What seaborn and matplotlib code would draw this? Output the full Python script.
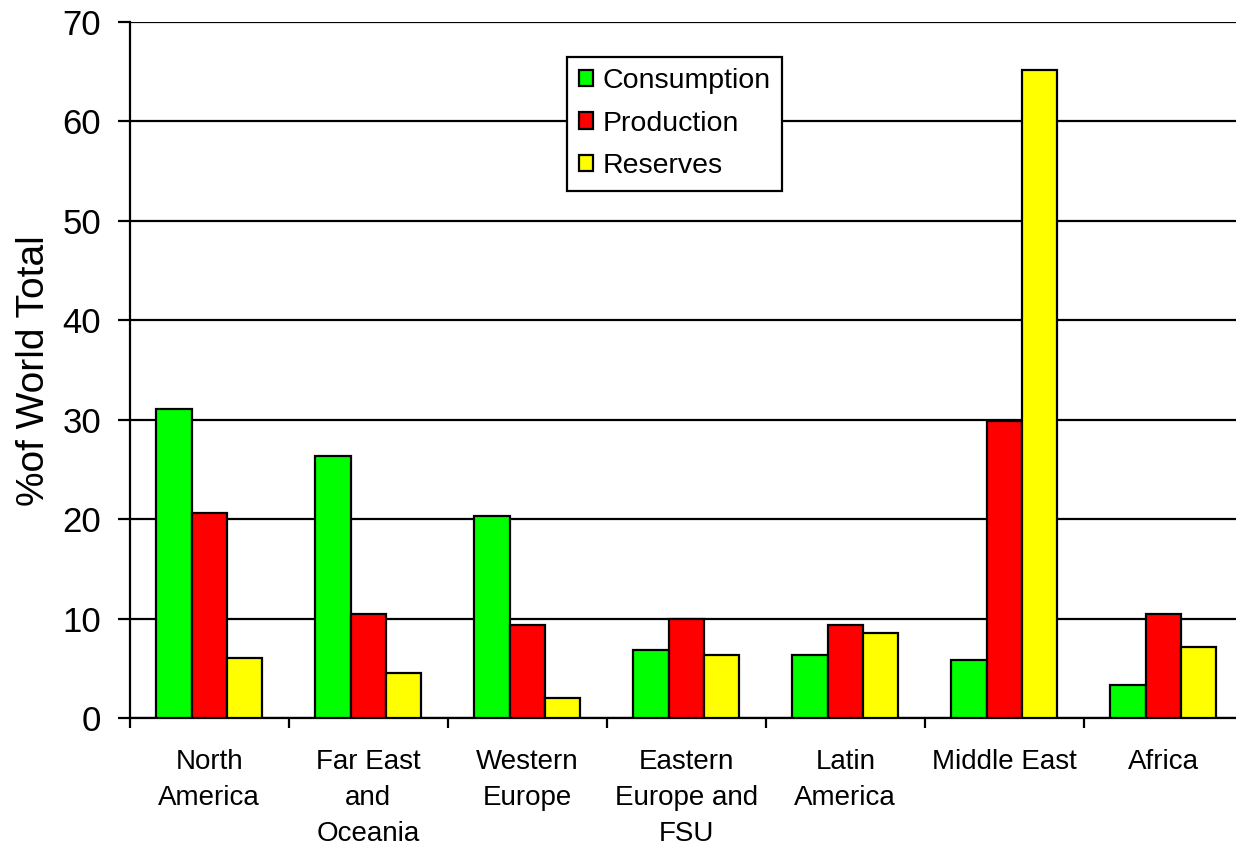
import pandas as pd
import matplotlib.pyplot as plt
import seaborn as sns

regions = ['North\nAmerica', 'Far East\nand\nOceania', 'Western\nEurope',
           'Eastern\nEurope and\nFSU', 'Latin\nAmerica', 'Middle East', 'Africa']
consumption = [31.1, 26.4, 20.3, 6.9, 6.4, 5.9, 3.3]
production = [20.6, 10.5, 9.4, 10.0, 9.4, 29.9, 10.5]
reserves = [6.1, 4.5, 2.0, 6.4, 8.6, 65.2, 7.2]

series = ['Consumption', 'Production', 'Reserves']
colors = {'Consumption': '#00FF00', 'Production': '#FF0000', 'Reserves': '#FFFF00'}

df = pd.DataFrame({'region': regions, 'Consumption': consumption,
                   'Production': production, 'Reserves': reserves})
df = df.melt(id_vars='region', value_vars=series, var_name='serie', value_name='pct')

sns.set_style('white')
plt.rcParams['font.family'] = ['Liberation Sans', 'DejaVu Sans']
plt.rcParams['text.color'] = 'black'
plt.rcParams['xtick.color'] = 'black'
plt.rcParams['ytick.color'] = 'black'
plt.rcParams['axes.labelcolor'] = 'black'

fig = plt.figure(figsize=(12.36, 8.46), dpi=100)
ax = fig.add_axes([0.105, 0.151, 0.9005, 0.823])

sns.barplot(data=df, x='region', y='pct', hue='serie', hue_order=series,
            palette=colors, width=0.667, edgecolor='black', linewidth=1.6,
            saturation=1, ax=ax, zorder=3)

ax.set_ylim(0, 70)
ax.set_xlim(-0.5, len(regions) - 0.5)
ax.set_yticks(range(0, 71, 10))
ax.yaxis.grid(True, color='black', linewidth=1.6)
ax.set_axisbelow(True)
ax.tick_params(axis='y', direction='out', length=8.6, width=1.6,
               labelsize=25, pad=12, left=True)

# ticks between groups, labels at group centres
ax.set_xticks([i - 0.5 for i in range(len(regions) + 1)])
ax.set_xticklabels([])
ax.set_xticks(range(len(regions)), minor=True)
ax.set_xticklabels(regions, minor=True, fontsize=20, linespacing=1.5, va='top')
ax.tick_params(axis='x', which='major', direction='out', length=7, width=1.6,
               bottom=True)
ax.tick_params(axis='x', which='minor', length=0, pad=22)

for s in ['top', 'right']:
    ax.spines[s].set_visible(False)
for s in ['left', 'bottom']:
    ax.spines[s].set_color('black')
    ax.spines[s].set_linewidth(1.6)

ax.set_xlabel('')
ax.set_ylabel('%of World Total', fontsize=28)
ax.yaxis.set_label_coords(-0.07, 0.5)

leg = ax.legend(loc='upper left', bbox_to_anchor=(0.393, 0.95), borderaxespad=0,
                fontsize=20.5, frameon=True, fancybox=False, framealpha=1,
                handlelength=0.5, handleheight=0.5, handletextpad=0.35,
                labelspacing=0.58, borderpad=0.4)
leg.get_frame().set_edgecolor('black')
leg.get_frame().set_linewidth(1.6)

plt.savefig('out.png', dpi=100)
